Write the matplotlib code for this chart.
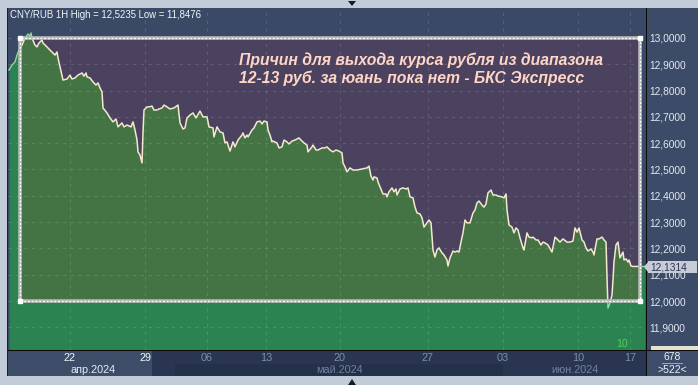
import numpy as np
import matplotlib
matplotlib.use("Agg")
from matplotlib import pyplot as plt
from matplotlib.patches import Rectangle, Polygon

plt.rcParams['font.family'] = ['Liberation Sans', 'DejaVu Sans']

# hourly bars (index) and close prices, CNY/RUB
bars = [0, 3, 6, 8, 10, 13, 16, 19, 21, 22,
        23, 26, 28, 30, 33, 34, 38, 41, 44, 46,
        48, 49, 51, 54, 58, 61, 63, 66, 69, 73,
        75, 77, 78, 81, 84, 87, 89, 91, 93, 94,
        98, 101, 104, 107, 109, 113, 115, 118, 122, 124,
        126, 128, 129, 131, 133, 134, 135, 138, 140, 143,
        145, 148, 150, 153, 155, 158, 161, 165, 169, 171,
        174, 176, 178, 181, 184, 187, 191, 194, 198, 200,
        204, 205, 207, 208, 211, 214, 216, 218, 221, 224,
        226, 229, 233, 234, 236, 238, 239, 243, 245, 248,
        251, 253, 255, 258, 259, 261, 263, 264, 268, 270,
        273, 275, 278, 280, 283, 286, 290, 293, 295, 298,
        299, 303, 304, 307, 309, 313, 316, 318, 321, 324,
        327, 330, 333, 334, 336, 338, 341, 344, 348, 353,
        358, 360, 362, 364, 365, 368, 369, 371, 374, 377,
        378, 380, 383, 385, 387, 388, 391, 394, 397, 399,
        401, 404, 406, 408, 411, 413, 415, 418, 420, 422,
        424, 426, 428, 430, 433, 435, 438, 439, 441, 444,
        446, 448, 450, 452, 454, 456, 458, 461, 464, 466,
        468, 470, 473, 475, 477, 479, 482, 484, 487, 489,
        493, 495, 497, 498, 500, 503, 505, 507, 509, 511,
        514, 515, 518, 520, 523, 524, 527, 529, 532, 534,
        536, 539, 543, 546, 548, 551, 554, 558, 561, 564,
        566, 568, 570, 573, 575, 577, 579, 582, 584, 585,
        588, 590, 593, 595, 597, 598, 599, 601, 603, 604,
        605, 607, 609, 611, 614, 615, 617, 619, 620, 622,
        624, 636]
close = [12.878, 12.897, 12.909, 12.935, 12.954, 12.973, 13.000, 13.015, 13.008, 13.019,
         13.000, 12.973, 12.966, 12.981, 12.992, 12.981, 12.966, 12.954, 12.943, 12.935,
         12.947, 12.924, 12.890, 12.840, 12.844, 12.859, 12.844, 12.848, 12.859, 12.867,
         12.855, 12.867, 12.852, 12.848, 12.833, 12.821, 12.829, 12.810, 12.795, 12.734,
         12.715, 12.696, 12.681, 12.692, 12.662, 12.677, 12.662, 12.669, 12.662, 12.681,
         12.650, 12.612, 12.567, 12.555, 12.525, 12.639, 12.726, 12.738, 12.738, 12.741,
         12.726, 12.726, 12.730, 12.734, 12.745, 12.738, 12.730, 12.734, 12.745, 12.677,
         12.654, 12.658, 12.696, 12.707, 12.715, 12.696, 12.722, 12.700, 12.700, 12.662,
         12.658, 12.624, 12.650, 12.662, 12.643, 12.639, 12.601, 12.605, 12.570, 12.605,
         12.586, 12.612, 12.631, 12.639, 12.620, 12.631, 12.624, 12.650, 12.658, 12.681,
         12.684, 12.673, 12.684, 12.681, 12.650, 12.631, 12.605, 12.608, 12.601, 12.582,
         12.586, 12.612, 12.605, 12.597, 12.608, 12.612, 12.620, 12.608, 12.601, 12.593,
         12.567, 12.586, 12.593, 12.574, 12.574, 12.582, 12.582, 12.586, 12.574, 12.567,
         12.574, 12.570, 12.563, 12.525, 12.510, 12.491, 12.506, 12.498, 12.498, 12.502,
         12.506, 12.513, 12.475, 12.460, 12.472, 12.468, 12.453, 12.434, 12.407, 12.407,
         12.396, 12.415, 12.430, 12.415, 12.426, 12.403, 12.426, 12.430, 12.426, 12.430,
         12.396, 12.392, 12.357, 12.335, 12.331, 12.316, 12.281, 12.297, 12.308, 12.297,
         12.194, 12.167, 12.194, 12.202, 12.183, 12.175, 12.156, 12.133, 12.164, 12.190,
         12.186, 12.190, 12.186, 12.224, 12.259, 12.308, 12.297, 12.297, 12.335, 12.346,
         12.373, 12.380, 12.365, 12.357, 12.369, 12.411, 12.422, 12.403, 12.403, 12.399,
         12.396, 12.392, 12.407, 12.346, 12.289, 12.281, 12.259, 12.278, 12.270, 12.240,
         12.202, 12.194, 12.259, 12.243, 12.240, 12.243, 12.232, 12.232, 12.213, 12.224,
         12.221, 12.213, 12.186, 12.243, 12.236, 12.224, 12.236, 12.224, 12.224, 12.228,
         12.278, 12.262, 12.278, 12.232, 12.224, 12.202, 12.190, 12.198, 12.186, 12.175,
         12.236, 12.236, 12.243, 12.232, 12.224, 12.091, 11.973, 11.992, 12.023, 12.080,
         12.148, 12.213, 12.224, 12.164, 12.186, 12.156, 12.160, 12.148, 12.156, 12.133,
         12.1314, 12.1314]

day_ticks = [61, 136, 198, 257, 331, 419, 494, 569, 621]
day_labels = ['22', '29', '06', '13', '20', '27', '03', '10', '17']
month_pos = [84, 331, 566]
month_labels = ['апр.2024', 'май.2024', 'июн.2024']
price_ticks = [11.9, 12.0, 12.1, 12.2, 12.3, 12.4, 12.5, 12.6, 12.7, 12.8, 12.9, 13.0]
box_range = (11, 631, 12.0, 13.0)   # drawn rectangle: bars and price band
last_price = '12,1314'

W, H = 698, 385
fig = plt.figure(figsize=(W / 100, H / 100), dpi=100, facecolor='#c2ccd9')


def px_rect(x0, y0, x1, y1, color, z=0):
    fig.add_artist(Rectangle((x0 / W, 1 - y1 / H), (x1 - x0) / W, (y1 - y0) / H,
                             transform=fig.transFigure, fc=color, ec='none', zorder=z))


def px_text(x, y, s, **kw):
    fig.text(x / W, 1 - y / H, s, va='center', **kw)


# side panels
px_rect(647, 8, 698, 351, '#3b4b68')
px_rect(8, 351, 646, 376, '#2a3651')
px_rect(8, 351, 153, 376, '#3c4c69')
px_rect(175, 364, 503, 376, '#25304a')
px_rect(647, 351, 698, 376, '#3c4c69')
px_rect(646, 8, 647, 376, '#0a0a0a', 5)
px_rect(8, 350, 698, 351, '#0a0a0a', 5)
px_rect(7, 8, 8, 376, '#1a2030', 5)
px_rect(152, 351, 154, 376, '#2a3450', 5)

ax = fig.add_axes([8 / W, (H - 350) / H, 638 / W, 342 / H])
ax.set_facecolor('#3a4a66')
for sp in ax.spines.values():
    sp.set_visible(False)

ymin, ymax = 11.8137, 13.114
ax.fill_between(bars, close, ymin, color='#2a8350', lw=0, zorder=1)
ax.plot(bars, close, color='#93dd93', lw=1, zorder=2)

bx0, bx1, by0, by1 = box_range
box = Rectangle((bx0, by0), bx1 - bx0, by1 - by0, fc='#4b4260', ec='none', zorder=3)
ax.add_patch(box)
inner = ax.fill_between(bars, close, ymin, color='#447444', lw=0, zorder=4)
inner.set_clip_path(box)
ln, = ax.plot(bars, close, color='#f3e9cc', lw=1.1, zorder=5)
ln.set_clip_path(box)

for t in price_ticks:
    ax.axhline(t, color='white', alpha=0.13, lw=0.8, ls=(0, (3, 4)), zorder=6)
for t in day_ticks:
    ax.axvline(t, color='white', alpha=0.13, lw=0.8, ls=(0, (3, 4)), zorder=6)

ax.add_patch(Rectangle((bx0, by0), bx1 - bx0, by1 - by0, fill=False, ec='#b9b9b9', lw=2.6, zorder=7))
ax.add_patch(Rectangle((bx0, by0), bx1 - bx0, by1 - by0, fill=False, ec='white', lw=0.9,
                       ls=(0, (1.5, 1.5)), zorder=8))
ax.plot([bx0, bx1, bx0, bx1], [by0, by0, by1, by1], 's', ms=3.5, color='white', zorder=9)

ax.set_xlim(-1, 637)
ax.set_ylim(ymin, ymax)

ax.yaxis.tick_right()
ax.set_yticks(price_ticks)
ax.set_yticklabels([f'{v:.4f}'.replace('.', ',') for v in price_ticks])
ax.tick_params(axis='y', length=0, pad=2.5, labelsize=7.3, labelcolor='#e4eaf2')
ax.set_xticks(day_ticks)
ax.set_xticklabels(day_labels)
ax.tick_params(axis='x', length=0, pad=2.5, labelsize=7.8)
for i, lab in enumerate(ax.get_xticklabels()):
    lab.set_color('#f2f5f8' if i < 2 else '#7d8cab')

for p, m in zip(month_pos, month_labels):
    ax.text(p, -0.058, m, transform=ax.get_xaxis_transform(), ha='center', va='center',
            fontsize=7.8, color='#e8edf3' if p < 150 else '#7482a0', clip_on=False)

px_text(10, 15, 'CNY/RUB 1H High = 12,5235 Low = 11,8476', fontsize=6.9, color='#f4f6fa')
px_text(239, 60, 'Причин для выхода курса рубля из диапазона', fontsize=11.3,
        fontweight='bold', fontstyle='italic', color='#ffd6c6')
px_text(239, 78, '12-13 руб. за юань пока нет - БКС Экспресс', fontsize=11.3,
        fontweight='bold', fontstyle='italic', color='#ffd6c6')

# last price tag
px_rect(648, 261, 697, 273, '#c7ccd6', 6)
fig.add_artist(Polygon([(644 / W, 1 - 267 / H), (648 / W, 1 - 262 / H), (648 / W, 1 - 272 / H)],
                       transform=fig.transFigure, fc='#c7ccd6', ec='none', zorder=6))
px_text(650, 267, last_price, fontsize=7.3, color='#2b3550', zorder=7)
px_rect(651, 346, 698, 350, '#e6e2cf', 4)

px_text(616, 344, '10', fontsize=7.5, color='#55cc66')
px_text(672, 357, '678', fontsize=7.5, color='#eef2f7', ha='center')
px_rect(662, 363, 683, 364, '#9aa4b6', 6)
px_text(672, 370, '>522<', fontsize=7.5, color='#eef2f7', ha='center')

# scroll markers
fig.add_artist(Polygon([(348 / W, 1 - 1 / H), (356 / W, 1 - 1 / H), (352 / W, 1 - 6 / H)],
                       transform=fig.transFigure, fc='#151a25', ec='none'))
fig.add_artist(Polygon([(348 / W, 1 - 385 / H), (356 / W, 1 - 385 / H), (352 / W, 1 - 379 / H)],
                       transform=fig.transFigure, fc='#151a25', ec='none'))

fig.savefig('out.png', dpi=100, facecolor=fig.get_facecolor())
